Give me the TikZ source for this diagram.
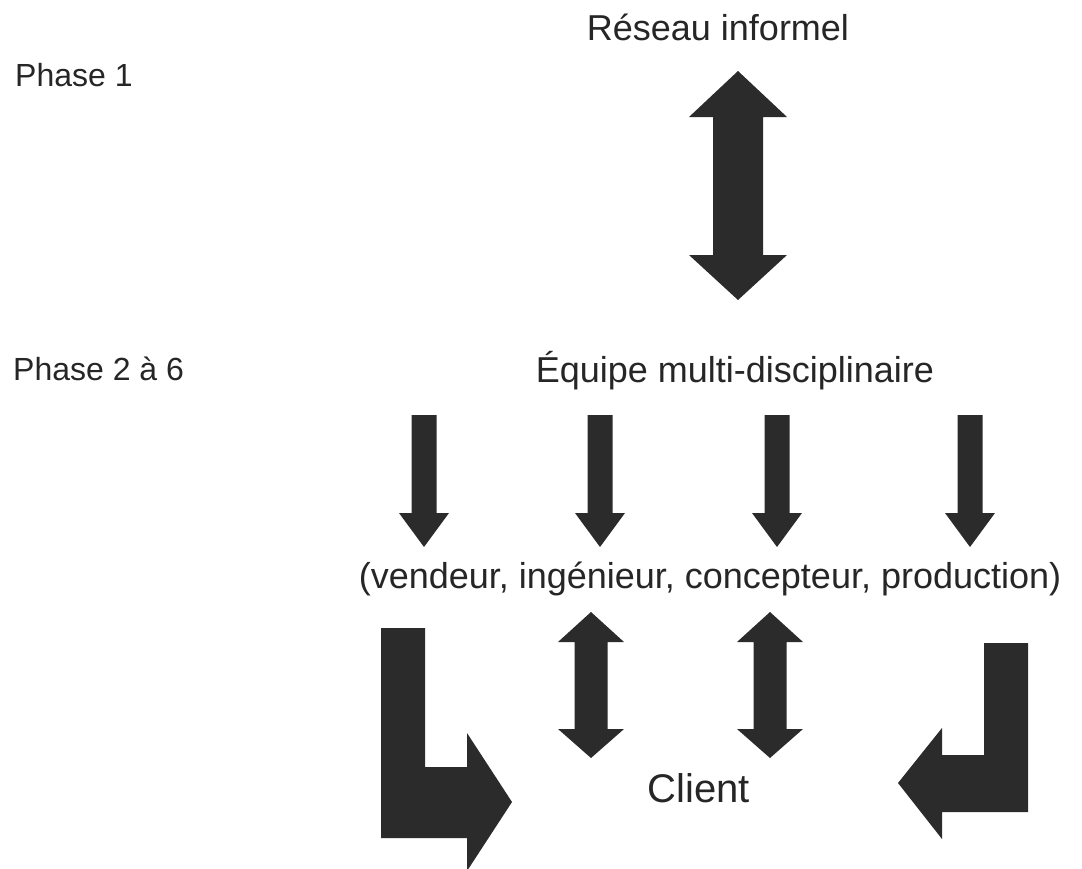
\documentclass[tikz,border=0pt]{standalone}
\usepackage{fontspec}
\setmainfont{Liberation Sans}
\definecolor{temna}{HTML}{2B2B2B}
\definecolor{crnina}{HTML}{262626}

\begin{document}
\begin{tikzpicture}[x=1pt,y=-1pt,
besedilo/.style={font=\fontsize{36}{43}\selectfont,text=crnina,inner sep=0pt,anchor=base},
faza/.style={besedilo,anchor=base west,font=\fontsize{32}{38}\selectfont},
puscica/.style={fill=temna,draw=none}]
\fill[white] (0,0) rectangle (1082,868);
\useasboundingbox (0,0) rectangle (1082,868);
\def\sredine{424,600,777,970}
\node[besedilo] (reseau) at (718,40) {Réseau informel};
\node[faza] (faza1) at (15,86) {Phase 1};
\node[faza] (faza2) at (13,380) {Phase 2 à 6};
\node[besedilo] (ekipa) at (735,382) {Équipe multi-disciplinaire};
\node[besedilo] (vloge) at (710,588) {(vendeur, ingénieur, concepteur, production)};
\node[besedilo,font=\fontsize{40}{48}\selectfont] (stranka) at (699,802) {Client};
\fill[puscica] (738,71) -- (787,117) -- (763,117) -- (763,255) -- (787,255) -- (738,300) --
(689,255) -- (713,255) -- (713,117) -- (689,117) -- cycle;
\foreach \x in \sredine
\fill[puscica] ({\x-12.5},415) -- ({\x+12.5},415) -- ({\x+12.5},513) -- ({\x+25},513) -- (\x,547) --
({\x-25},513) -- ({\x-12.5},513) -- cycle;
\foreach \x in {591,770}
\fill[puscica] (\x,612) -- ({\x+33},642) -- ({\x+16.5},642) -- ({\x+16.5},729) -- ({\x+33},729) -- (\x,758) --
({\x-33},729) -- ({\x-16.5},729) -- ({\x-16.5},642) -- ({\x-33},642) -- cycle;
\fill[puscica] (381,628) -- (425,628) -- (425,767) -- (467,767) -- (467,733) -- (512,802) --
(467,871) -- (467,838) -- (381,838) -- cycle;
\fill[puscica] (1028,643) -- (984,643) -- (984,755) -- (942,755) -- (942,728) -- (898,783) --
(942,839) -- (942,812) -- (1028,812) -- cycle;
\end{tikzpicture}
\end{document}
